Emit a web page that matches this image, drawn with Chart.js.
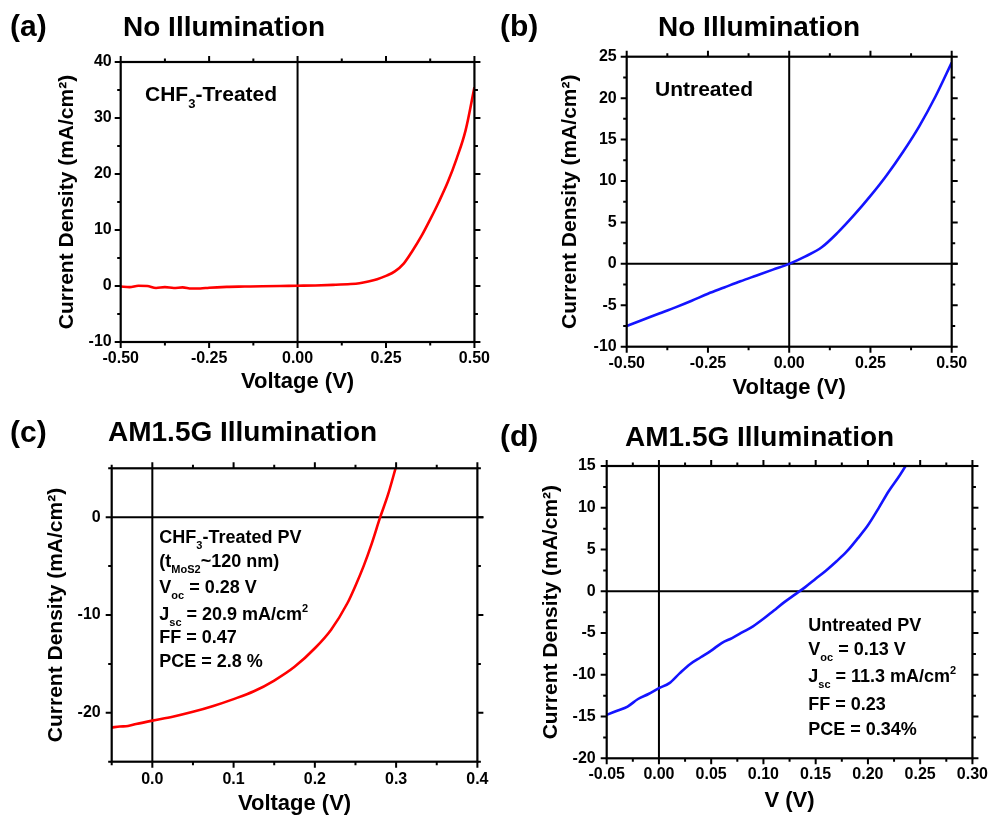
<!DOCTYPE html>
<html>
<head>
<meta charset="utf-8">
<script src="https://cdn.jsdelivr.net/npm/chart.js@4.4.1/dist/chart.umd.min.js"></script>
<style>
  html, body { margin: 0; padding: 0; background: #fff; overflow: hidden; }
  #wrap { position: relative; width: 995px; height: 815px; overflow: hidden; background: #fff; }
  canvas { position: absolute; }
</style>
</head>
<body>
<div id="wrap">
  <canvas id="ca" width="497" height="407" style="left:0px;top:0px"></canvas>
  <canvas id="cb" width="498" height="407" style="left:497px;top:0px"></canvas>
  <canvas id="cc" width="497" height="420" style="left:0px;top:407px"></canvas>
  <canvas id="cd" width="498" height="420" style="left:497px;top:407px"></canvas>
</div>
<script>
// ---------------- DATA ----------------
// (a) No illumination, CHF3-treated
const A_VOLT = [-0.5,-0.475,-0.45,-0.425,-0.4,-0.375,-0.35,-0.325,-0.3,-0.275,-0.25,-0.2,-0.15,-0.1,-0.05,0,0.05,0.1,0.15,0.175,0.2,0.225,0.25,0.275,0.3,0.325,0.35,0.375,0.4,0.425,0.45,0.475,0.5];
const A_CURR = [-0.1,-0.2,0.05,0.0,-0.35,-0.2,-0.35,-0.25,-0.45,-0.45,-0.3,-0.15,-0.1,-0.05,0.0,0.05,0.1,0.2,0.35,0.5,0.8,1.2,1.8,2.6,4.0,6.3,8.9,11.9,15.1,18.6,22.8,27.8,35.5];
const A_X_TICKS = [-0.5,-0.25,0,0.25,0.5];
const A_X_LABELS = ['-0.50','-0.25','0.00','0.25','0.50'];
const A_X_MINOR = [-0.375,-0.125,0.125,0.375];
const A_Y_TICKS = [-10,0,10,20,30,40];
const A_Y_LABELS = ['-10','0','10','20','30','40'];
const A_Y_MINOR = [-5,5,15,25,35];

// (b) No illumination, untreated
const B_VOLT = [-0.5,-0.45,-0.4,-0.35,-0.3,-0.25,-0.2,-0.15,-0.1,-0.05,0,0.05,0.1,0.15,0.2,0.25,0.3,0.35,0.4,0.45,0.5];
const B_CURR = [-7.5,-6.75,-6.0,-5.25,-4.45,-3.6,-2.85,-2.1,-1.4,-0.7,0,0.9,2.0,3.8,5.9,8.2,10.7,13.5,16.6,20.2,24.3];
const B_X_TICKS = [-0.5,-0.25,0,0.25,0.5];
const B_X_LABELS = ['-0.50','-0.25','0.00','0.25','0.50'];
const B_X_MINOR = [-0.375,-0.125,0.125,0.375];
const B_Y_TICKS = [-10,-5,0,5,10,15,20,25];
const B_Y_LABELS = ['-10','-5','0','5','10','15','20','25'];
const B_Y_MINOR = [-7.5,-2.5,2.5,7.5,12.5,17.5,22.5];

// (c) AM1.5G, CHF3-treated PV
const C_VOLT = [-0.05,-0.04,-0.03,-0.02,0,0.025,0.05,0.075,0.1,0.125,0.15,0.175,0.2,0.22,0.24,0.25,0.26,0.27,0.28,0.29,0.3];
const C_CURR = [-21.5,-21.4,-21.35,-21.15,-20.8,-20.4,-19.9,-19.3,-18.6,-17.8,-16.7,-15.3,-13.4,-11.5,-8.8,-7.0,-5.0,-2.7,-0.1,2.3,5.2];
const C_X_TICKS = [0,0.1,0.2,0.3,0.4];
const C_X_LABELS = ['0.0','0.1','0.2','0.3','0.4'];
const C_X_MINOR = [-0.05,0.05,0.15,0.25,0.35];
const C_Y_TICKS = [-20,-10,0];
const C_Y_LABELS = ['-20','-10','0'];
const C_Y_MINOR = [-25,-15,-5,5];

// (d) AM1.5G, untreated PV
const D_VOLT = [-0.05,-0.04,-0.03,-0.02,-0.01,0,0.01,0.02,0.03,0.04,0.05,0.06,0.07,0.08,0.09,0.1,0.11,0.12,0.13,0.14,0.15,0.16,0.17,0.18,0.19,0.2,0.21,0.22,0.23,0.24];
const D_CURR = [-14.8,-14.3,-13.8,-12.9,-12.3,-11.6,-11.0,-9.8,-8.7,-7.9,-7.1,-6.2,-5.6,-4.9,-4.2,-3.3,-2.3,-1.3,-0.4,0.5,1.5,2.5,3.6,4.8,6.3,7.9,9.9,12.0,13.8,15.8];
const D_X_TICKS = [-0.05,0,0.05,0.1,0.15,0.2,0.25,0.3];
const D_X_LABELS = ['-0.05','0.00','0.05','0.10','0.15','0.20','0.25','0.30'];
const D_X_MINOR = [-0.025,0.025,0.075,0.125,0.175,0.225,0.275];
const D_Y_TICKS = [-20,-15,-10,-5,0,5,10,15];
const D_Y_LABELS = ['-20','-15','-10','-5','0','5','10','15'];
const D_Y_MINOR = [-17.5,-12.5,-7.5,-2.5,2.5,7.5,12.5];

// ---------------- RENDERING ----------------
const FONT = '"Liberation Sans", Arial, Helvetica, sans-serif';
const TITLE_SIZE = 22;
const TITLE_PAD = 4;

function drawRich(ctx, x, y, segs, size) {
  let cx = x;
  ctx.textAlign = 'left';
  ctx.textBaseline = 'alphabetic';
  for (const s of segs) {
    const small = s.sub || s.sup;
    const fs = small ? Math.round(size * 0.6) : size;
    ctx.font = 'bold ' + fs + 'px ' + FONT;
    const dy = s.sub ? size * 0.36 : (s.sup ? -size * 0.42 : 0);
    ctx.fillText(s.t, cx, y + dy);
    cx += ctx.measureText(s.t).width;
  }
}

const framePlugin = {
  id: 'frame',
  beforeDatasetsDraw(chart, args, o) {
    const ctx = chart.ctx, a = chart.chartArea;
    const xs = chart.scales.x, ys = chart.scales.y;
    ctx.save();
    ctx.strokeStyle = '#000';
    ctx.lineWidth = 2;
    if (o.zeroX) {
      const px = xs.getPixelForValue(0);
      ctx.beginPath(); ctx.moveTo(px, a.top); ctx.lineTo(px, a.bottom); ctx.stroke();
    }
    if (o.zeroY) {
      const py = ys.getPixelForValue(0);
      ctx.beginPath(); ctx.moveTo(a.left, py); ctx.lineTo(a.right + 6, py); ctx.stroke();
    }
    ctx.restore();
  },
  afterDatasetsDraw(chart, args, o) {
    const ctx = chart.ctx, a = chart.chartArea;
    const xs = chart.scales.x, ys = chart.scales.y;
    ctx.save();
    ctx.strokeStyle = '#000';
    ctx.lineWidth = 2.2;
    ctx.strokeRect(a.left, a.top, a.right - a.left, a.bottom - a.top);
    const MAJ = 6, MIN = 3.5;
    ctx.lineWidth = 2;
    const tickX = (vals, len) => vals.forEach(v => {
      const px = xs.getPixelForValue(v);
      ctx.beginPath();
      ctx.moveTo(px, a.bottom); ctx.lineTo(px, a.bottom + len);
      ctx.moveTo(px, a.top); ctx.lineTo(px, a.top - len);
      ctx.stroke();
    });
    const tickY = (vals, len) => vals.forEach(v => {
      const py = ys.getPixelForValue(v);
      ctx.beginPath();
      ctx.moveTo(a.left, py); ctx.lineTo(a.left - len, py);
      ctx.moveTo(a.right, py); ctx.lineTo(a.right + len, py);
      ctx.stroke();
    });
    tickX(o.xMajor, MAJ); tickX(o.xMinor, MIN);
    tickY(o.yMajor, MAJ); tickY(o.yMinor, MIN);
    ctx.restore();
  },
  afterDraw(chart, args, o) {
    const ctx = chart.ctx;
    ctx.save();
    ctx.fillStyle = '#000';
    ctx.textAlign = 'left';
    ctx.textBaseline = 'middle';
    ctx.font = 'bold 30px ' + FONT;
    ctx.fillText(o.letter.t, o.letter.x, o.letter.y);
    ctx.font = 'bold 28px ' + FONT;
    ctx.fillText(o.title.t, o.title.x, o.title.y);
    for (const ln of o.notes.lines) {
      drawRich(ctx, o.notes.x, ln.y, ln.segs, o.notes.size);
    }
    ctx.restore();
  }
};

function makePanel(id, p) {
  const g = p.geom;
  const lh = TITLE_SIZE * 1.2;
  const padLeft = g.yTitleX - (lh / 2 + TITLE_PAD);
  const yW = g.l - padLeft;
  const xBottom = g.xTitleY + lh / 2 + TITLE_PAD;
  const xH = xBottom - g.b;
  const canvas = document.getElementById(id);
  const W = canvas.width, H = canvas.height;
  const pts = p.volt.map((v, i) => ({ x: v, y: p.curr[i] }));
  return new Chart(canvas, {
    type: 'scatter',
    data: { datasets: [{
      data: pts, showLine: true, borderColor: p.color, borderWidth: 2.6,
      pointRadius: 0, cubicInterpolationMode: 'monotone', fill: false
    }] },
    options: {
      responsive: false, animation: false, devicePixelRatio: 1,
      layout: { padding: { left: padLeft, top: g.t, right: W - g.r, bottom: H - xBottom } },
      plugins: {
        legend: { display: false }, tooltip: { enabled: false },
        frame: {
          zeroX: p.zeroX, zeroY: p.zeroY,
          xMajor: p.xTicks, xMinor: p.xMinor, yMajor: p.yTicks, yMinor: p.yMinor,
          letter: p.letter, title: p.title, notes: p.notes
        }
      },
      scales: {
        x: {
          type: 'linear', min: p.xMin, max: p.xMax,
          grid: { display: false, drawTicks: false }, border: { display: false },
          afterBuildTicks: s => { s.ticks = p.xTicks.map(v => ({ value: v })); },
          afterFit: s => { s.height = xH; },
          ticks: {
            autoSkip: false, maxRotation: 0, padding: g.xPad, color: '#000',
            font: { family: FONT, size: 16, weight: 'bold' },
            callback: (v, i) => p.xLabels[i]
          },
          title: { display: true, text: p.xTitle, color: '#000', padding: { top: TITLE_PAD, bottom: TITLE_PAD },
                   font: { family: FONT, size: TITLE_SIZE, weight: 'bold' } }
        },
        y: {
          type: 'linear', min: p.yMin, max: p.yMax,
          grid: { display: false, drawTicks: false }, border: { display: false },
          afterBuildTicks: s => { s.ticks = p.yTicks.map(v => ({ value: v })); },
          afterFit: s => { s.width = yW; },
          ticks: {
            autoSkip: false, padding: g.yPad, color: '#000',
            font: { family: FONT, size: 16, weight: 'bold' },
            callback: (v, i) => p.yLabels[i]
          },
          title: { display: true, text: 'Current Density (mA/cm\u00B2)', color: '#000',
                   padding: { top: TITLE_PAD, bottom: TITLE_PAD },
                   font: { family: FONT, size: 21, weight: 'bold' } }
        }
      }
    },
    plugins: [framePlugin]
  });
}

makePanel('ca', {
  volt: A_VOLT, curr: A_CURR, color: 'rgb(255,0,0)',
  xMin: -0.5, xMax: 0.5, yMin: -10, yMax: 40,
  xTicks: A_X_TICKS, xLabels: A_X_LABELS, xMinor: A_X_MINOR,
  yTicks: A_Y_TICKS, yLabels: A_Y_LABELS, yMinor: A_Y_MINOR,
  zeroX: true, zeroY: false, xTitle: 'Voltage (V)',
  geom: { l: 120.7, t: 62, r: 477, b: 342, yTitleX: 68.3, xTitleY: 381.7, xPad: 7, yPad: 9 },
  letter: { t: '(a)', x: 10, y: 28 },
  title: { t: 'No Illumination', x: 123, y: 28 },
  notes: { x: 145, size: 21, lines: [
    { y: 100.5, segs: [{ t: 'CHF' }, { t: '3', sub: true }, { t: '-Treated' }] }
  ] }
});

makePanel('cb', {
  volt: B_VOLT, curr: B_CURR, color: 'rgb(20,20,255)',
  xMin: -0.5, xMax: 0.5, yMin: -10, yMax: 25,
  xTicks: B_X_TICKS, xLabels: B_X_LABELS, xMinor: B_X_MINOR,
  yTicks: B_Y_TICKS, yLabels: B_Y_LABELS, yMinor: B_Y_MINOR,
  zeroX: true, zeroY: true, xTitle: 'Voltage (V)',
  geom: { l: 129.7, t: 56.7, r: 454.7, b: 346.7, yTitleX: 74, xTitleY: 388, xPad: 7, yPad: 10 },
  letter: { t: '(b)', x: 3, y: 28 },
  title: { t: 'No Illumination', x: 161, y: 28 },
  notes: { x: 158, size: 21, lines: [
    { y: 96, segs: [{ t: 'Untreated' }] }
  ] }
});

makePanel('cc', {
  volt: C_VOLT, curr: C_CURR, color: 'rgb(255,0,0)',
  xMin: -0.05, xMax: 0.4, yMin: -25, yMax: 5,
  xTicks: C_X_TICKS, xLabels: C_X_LABELS, xMinor: C_X_MINOR,
  yTicks: C_Y_TICKS, yLabels: C_Y_LABELS, yMinor: C_Y_MINOR,
  zeroX: true, zeroY: true, xTitle: 'Voltage (V)',
  geom: { l: 111.7, t: 61.3, r: 484, b: 354.7, yTitleX: 56.7, xTitleY: 397, xPad: 8.5, yPad: 11 },
  letter: { t: '(c)', x: 10, y: 26.5 },
  title: { t: 'AM1.5G Illumination', x: 108, y: 26.5 },
  notes: { x: 159.3, size: 18, lines: [
    { y: 135.7, segs: [{ t: 'CHF' }, { t: '3', sub: true }, { t: '-Treated PV' }] },
    { y: 159.7, segs: [{ t: '(t' }, { t: 'MoS2', sub: true }, { t: '~120 nm)' }] },
    { y: 185.7, segs: [{ t: 'V' }, { t: 'oc', sub: true }, { t: ' = 0.28 V' }] },
    { y: 213, segs: [{ t: 'J' }, { t: 'sc', sub: true }, { t: ' = 20.9 mA/cm' }, { t: '2', sup: true }] },
    { y: 236.3, segs: [{ t: 'FF = 0.47' }] },
    { y: 259.7, segs: [{ t: 'PCE = 2.8 %' }] }
  ] }
});

makePanel('cd', {
  volt: D_VOLT, curr: D_CURR, color: 'rgb(20,20,255)',
  xMin: -0.05, xMax: 0.3, yMin: -20, yMax: 15,
  xTicks: D_X_TICKS, xLabels: D_X_LABELS, xMinor: D_X_MINOR,
  yTicks: D_Y_TICKS, yLabels: D_Y_LABELS, yMinor: D_Y_MINOR,
  zeroX: true, zeroY: true, xTitle: 'V (V)',
  geom: { l: 109.7, t: 59, r: 482, b: 351.3, yTitleX: 55.3, xTitleY: 394, xPad: 7, yPad: 11 },
  letter: { t: '(d)', x: 3, y: 31 },
  title: { t: 'AM1.5G Illumination', x: 128, y: 31 },
  notes: { x: 311.3, size: 18, lines: [
    { y: 223.7, segs: [{ t: 'Untreated PV' }] },
    { y: 248, segs: [{ t: 'V' }, { t: 'oc', sub: true }, { t: ' = 0.13 V' }] },
    { y: 274.7, segs: [{ t: 'J' }, { t: 'sc', sub: true }, { t: ' = 11.3 mA/cm' }, { t: '2', sup: true }] },
    { y: 303, segs: [{ t: 'FF = 0.23' }] },
    { y: 328, segs: [{ t: 'PCE = 0.34%' }] }
  ] }
});
</script>
</body>
</html>
